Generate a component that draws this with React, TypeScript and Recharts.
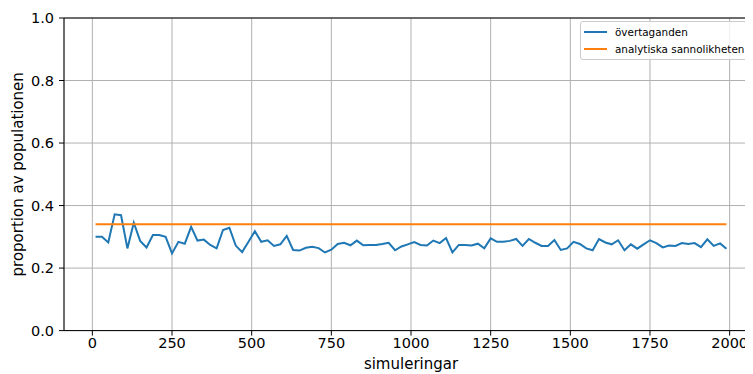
import React from 'react';
import {
  LineChart,
  Line,
  XAxis,
  YAxis,
  CartesianGrid,
  Legend,
  ReferenceLine,
} from 'recharts';

const simuleringar = [
  10, 30, 50, 70, 90, 110, 130, 150, 170, 190,
  210, 230, 250, 270, 290, 310, 330, 350, 370, 390,
  410, 430, 450, 470, 490, 510, 530, 550, 570, 590,
  610, 630, 650, 670, 690, 710, 730, 750, 770, 790,
  810, 830, 850, 870, 890, 910, 930, 950, 970, 990,
  1010, 1030, 1050, 1070, 1090, 1110, 1130, 1150, 1170, 1190,
  1210, 1230, 1250, 1270, 1290, 1310, 1330, 1350, 1370, 1390,
  1410, 1430, 1450, 1470, 1490, 1510, 1530, 1550, 1570, 1590,
  1610, 1630, 1650, 1670, 1690, 1710, 1730, 1750, 1770, 1790,
  1810, 1830, 1850, 1870, 1890, 1910, 1930, 1950, 1970, 1990,
];

const overtaganden = [
  0.300, 0.300, 0.282, 0.372, 0.369, 0.263, 0.345, 0.287, 0.266, 0.306,
  0.306, 0.300, 0.247, 0.284, 0.278, 0.332, 0.288, 0.291, 0.274, 0.263,
  0.322, 0.329, 0.272, 0.251, 0.284, 0.318, 0.284, 0.289, 0.271, 0.276,
  0.303, 0.258, 0.256, 0.265, 0.268, 0.264, 0.250, 0.259, 0.277, 0.281,
  0.273, 0.288, 0.273, 0.274, 0.274, 0.277, 0.281, 0.257, 0.269, 0.276,
  0.283, 0.274, 0.272, 0.288, 0.280, 0.296, 0.250, 0.274, 0.274, 0.272,
  0.278, 0.263, 0.295, 0.284, 0.284, 0.287, 0.293, 0.271, 0.293, 0.281,
  0.271, 0.271, 0.290, 0.258, 0.263, 0.284, 0.277, 0.263, 0.257, 0.293,
  0.282, 0.276, 0.289, 0.257, 0.276, 0.262, 0.276, 0.289, 0.280, 0.266,
  0.272, 0.271, 0.280, 0.277, 0.280, 0.267, 0.292, 0.271, 0.279, 0.262,
];

const analytiskSannolikhet = 0.34;

const xTicks = [0, 250, 500, 750, 1000, 1250, 1500, 1750, 2000];
const yTicks = [0, 0.2, 0.4, 0.6, 0.8, 1.0];

const legendItems = [
  { label: 'övertaganden', color: '#1f77b4' },
  { label: 'analytiska sannolikheten', color: '#ff7f0e' },
];

const data = simuleringar.map((s, i) => ({
  simuleringar: s,
  overtaganden: overtaganden[i],
  analytisk: analytiskSannolikhet,
}));

const font = '"DejaVu Sans", sans-serif';

const YLabel = ({ viewBox }: any) => {
  const cx = viewBox.x + 10;
  const cy = viewBox.y + viewBox.height / 2;
  return (
    <text
      x={cx}
      y={cy}
      transform={`rotate(-90, ${cx}, ${cy})`}
      textAnchor="middle"
      dominantBaseline="central"
      fontFamily={font}
      fontSize={15}
      fill="#000"
    >
      proportion av populationen
    </text>
  );
};

const renderLegend = () => (
  <div
    style={{
      boxSizing: 'border-box',
      border: '1px solid #cccccc',
      borderRadius: 3,
      background: 'rgba(255,255,255,0.8)',
      padding: '1px 3px 2px 3px',
      width: 171,
      fontFamily: font,
      fontSize: 10.4,
      color: '#000',
      whiteSpace: 'nowrap',
    }}
  >
    {legendItems.map((it) => (
      <div key={it.label} style={{ display: 'flex', alignItems: 'center', height: 17 }}>
        <span style={{ display: 'inline-block', width: 23, height: 2, background: it.color, marginRight: 8 }} />
        <span>{it.label}</span>
      </div>
    ))}
  </div>
);

export default function App() {
  return (
    <div style={{ width: 745, height: 366, overflow: 'hidden' }}>
      <LineChart
        width={760}
        height={366}
        data={data}
        margin={{ top: 10, right: 10, left: 0, bottom: 0 }}
      >
        <CartesianGrid stroke="#b0b0b0" strokeWidth={1} />
        <XAxis
          dataKey="simuleringar"
          type="number"
          domain={[-89, 2089]}
          ticks={xTicks}
          allowDataOverflow
          height={43.4}
          axisLine={{ stroke: '#000', strokeWidth: 1 }}
          tickLine={{ stroke: '#000' }}
          tickSize={5}
          tickMargin={2}
          tick={{ fontSize: 14.5, fontFamily: font, fill: '#000' }}
          label={{ value: 'simuleringar', position: 'insideBottom', offset: 5, fontSize: 15, fontFamily: font, fill: '#000' }}
        />
        <YAxis
          type="number"
          domain={[0, 1]}
          ticks={yTicks}
          width={56}
          axisLine={{ stroke: '#000', strokeWidth: 1 }}
          tickLine={{ stroke: '#000' }}
          tickSize={5}
          tickMargin={5}
          tickFormatter={(v: number) => v.toFixed(1)}
          tick={{ fontSize: 14.5, fontFamily: font, fill: '#000' }}
          label={<YLabel />}
        />
        <ReferenceLine y={1} stroke="#000" strokeWidth={1} />
        <Line
          type="linear"
          dataKey="overtaganden"
          name="övertaganden"
          stroke="#1f77b4"
          strokeWidth={2}
          dot={false}
          isAnimationActive={false}
        />
        <Line
          type="linear"
          dataKey="analytisk"
          name="analytiska sannolikheten"
          stroke="#ff7f0e"
          strokeWidth={2}
          dot={false}
          isAnimationActive={false}
        />
        <Legend
          layout="vertical"
          align="center"
          verticalAlign="middle"
          content={renderLegend}
          wrapperStyle={{ top: 13, left: 572, width: 171, height: 'auto' }}
        />
      </LineChart>
    </div>
  );
}
